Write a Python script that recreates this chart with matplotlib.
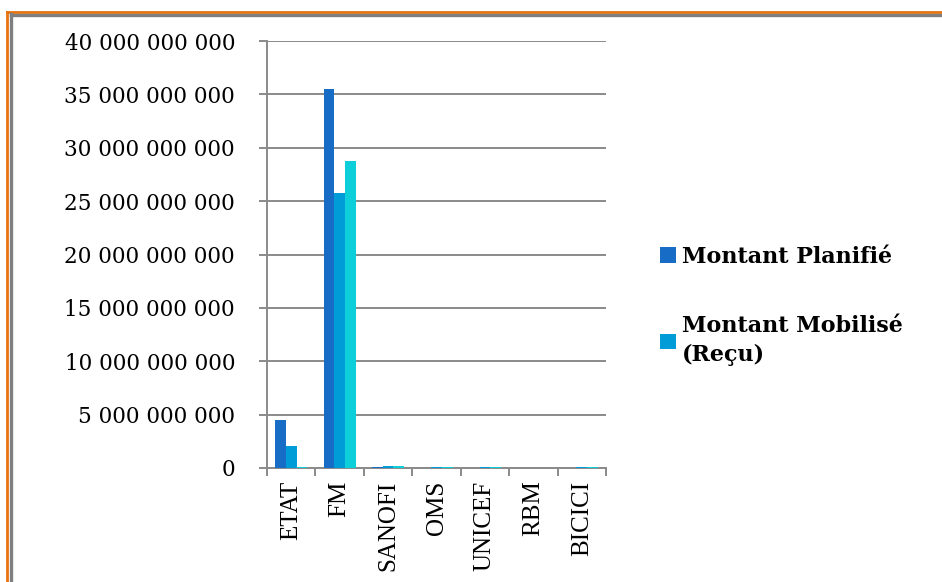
import matplotlib.pyplot as plt
from matplotlib.lines import Line2D
from matplotlib.ticker import FuncFormatter
import numpy as np

# donnees
categories = ["ETAT", "FM", "SANOFI", "OMS", "UNICEF", "RBM", "BICICI"]
planifie = [4.45e9, 35.5e9, 0.05e9, 0.0, 0.0, 0.0, 0.0]
mobilise = [2.1e9, 25.75e9, 0.22e9, 0.1e9, 0.1e9, 0.0, 0.1e9]
serie3 = [0.08e9, 28.8e9, 0.22e9, 0.1e9, 0.1e9, 0.0, 0.1e9]
labels = ["Montant Planifié", "Montant Mobilisé\n(Reçu)"]
yticks = np.arange(0, 40e9 + 1, 5e9)

colors = ["#176dc6", "#009cd8", "#0dcfd9"]
grid_col = "#8a8a8a"

fig = plt.figure(figsize=(9.42, 5.82), dpi=100)
ax = fig.add_axes([267 / 942, 1 - 468 / 582, (606 - 267) / 942, (468 - 41) / 582])

x = np.arange(len(categories))
w = 0.222
ax.bar(x - w, planifie, w, color=colors[0], label=labels[0], zorder=3)
ax.bar(x, mobilise, w, color=colors[1], label=labels[1], zorder=3)
ax.bar(x + w, serie3, w, color=colors[2], label="_nolegend_", zorder=3)

ax.set_xlim(-0.5, len(categories) - 0.5)
ax.set_ylim(0, 40e9)
ax.set_yticks(yticks)
ax.yaxis.set_major_formatter(FuncFormatter(lambda v, p: "{:,.0f}".format(v).replace(",", " ")))
ax.grid(axis="y", color=grid_col, lw=1.4, zorder=0)

for s in ["top", "right"]:
    ax.spines[s].set_visible(False)
for s in ["left", "bottom"]:
    ax.spines[s].set_color(grid_col)
    ax.spines[s].set_linewidth(1.4)

ax.set_xticks(x)
ax.set_xticklabels(categories, rotation=90, family="Liberation Serif", fontsize=18)
ax.set_xticks(np.arange(-0.5, len(categories), 1), minor=True)
ax.tick_params(axis="x", which="major", length=0, pad=9)
ax.tick_params(axis="x", which="minor", length=6, color=grid_col, width=1.4)
ax.tick_params(axis="y", length=6, color=grid_col, width=1.4, pad=17)
for t in ax.get_yticklabels():
    t.set_family("DejaVu Serif")
    t.set_fontsize(15.5)

leg = ax.legend(loc="upper left", bbox_to_anchor=(640 / 942, 1 - 226 / 582), bbox_transform=fig.transFigure,
                frameon=False, prop={"family": "DejaVu Serif", "size": 16, "weight": "bold"},
                handlelength=0.7, handleheight=0.7, handletextpad=0.3, labelspacing=2.1)
for t in leg.get_texts():
    t.set_linespacing(1.45)

# cadre orange / gris
fig.add_artist(Line2D([7 / 942, 7 / 942], [0, 1 - 12 / 582], transform=fig.transFigure, color="#e8730f", lw=2))
fig.add_artist(Line2D([7 / 942, 1], [1 - 12 / 582, 1 - 12 / 582], transform=fig.transFigure, color="#e8730f", lw=2))
fig.add_artist(Line2D([10.5 / 942, 10.5 / 942], [0, 1 - 14 / 582], transform=fig.transFigure, color="#7f7f7f", lw=2.4))
fig.add_artist(Line2D([10.5 / 942, 1], [1 - 14.5 / 582, 1 - 14.5 / 582], transform=fig.transFigure, color="#7f7f7f", lw=2.4))

fig.savefig("out.png", dpi=100)
